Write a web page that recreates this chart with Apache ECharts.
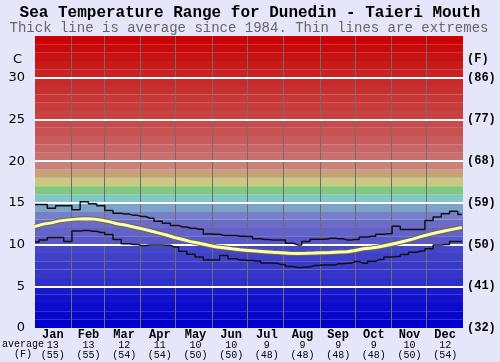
<!DOCTYPE html>
<html><head><meta charset="utf-8">
<script src="https://cdn.jsdelivr.net/npm/echarts@6/dist/echarts.min.js"></script>
<style>html,body{margin:0;padding:0;background:#e6e6fa;}#c{width:500px;height:362px;}</style>
</head><body><div id="c"></div>
<script>
// ---- data ----
const months = ['Jan','Feb','Mar','Apr','May','Jun','Jul','Aug','Sep','Oct','Nov','Dec'];
const monthAvgC = [13,13,12,11,10,10,9,9,9,9,10,12];
const monthAvgF = [55,55,54,54,50,50,48,48,48,48,50,54];
const monthStarts = [31,59,90,120,151,181,212,243,273,304,334];
const cTicks = [0,5,10,15,20,25,30];
const fTicks = ['(32)','(41)','(50)','(59)','(68)','(77)','(86)'];
const days = [0,7,14,21,28,35,42,49,56,63,70,77,84,91,98,105,112,119,126,133,140,147,154,161,168,175,182,189,196,203,210,217,224,231,238,245,252,259,266,273,280,287,294,301,308,315,322,329,336,343,350,357,364];
const avgTemp = [12.16,12.45,12.6,12.84,12.96,13.05,13.1,13.08,12.95,12.75,12.5,12.35,12.1,11.9,11.65,11.4,11.15,10.85,10.6,10.35,10.15,9.95,9.75,9.63,9.5,9.38,9.3,9.22,9.15,9.07,9.02,8.97,8.93,8.95,8.98,9.02,9.05,9.1,9.15,9.3,9.5,9.6,9.75,9.95,10.15,10.4,10.65,10.95,11.2,11.45,11.65,11.85,12.05];
const maxTemp = [14.8,14.8,14.36,14.64,14.64,14.16,15.12,14.88,14.64,14.08,13.76,13.65,13.5,13.36,13.15,12.8,12.56,12.3,12.1,11.95,11.84,11.28,11.24,11.1,11.1,11.0,10.96,10.7,10.6,10.56,10.56,10.16,9.96,10.36,10.64,10.64,10.76,10.7,10.56,10.6,10.9,11.0,11.24,11.3,12.2,11.8,11.8,11.8,12.9,13.3,13.7,14.0,13.6];
const minTemp = [10.3,10.56,10.84,10.84,10.36,11.64,11.7,11.6,11.45,11.2,10.6,10.1,10.0,9.9,9.96,9.96,9.92,9.7,9.2,8.84,8.5,8.16,8.16,8.68,8.3,8.16,8.1,8.04,7.8,7.76,7.6,7.36,7.24,7.3,7.48,7.56,7.56,7.7,7.76,7.96,7.76,8.0,8.2,8.5,8.56,8.8,9.08,9.24,9.5,9.96,10.0,10.36,10.36];
const titleText = 'Sea Temperature Range for Dunedin - Taieri Mouth';
const subtitleText = 'Thick line is average since 1984. Thin lines are extremes';

// ---- styles ----
const bandColors = ['#0000cc','#0606cc','#0c0ccc','#1212cc','#1818cc','#3030c8','#3535c8','#3a3ac8','#4040c8','#4646c8',
  '#5858c8','#6262c8','#6c6cc8','#7680c8','#7ca4c8','#80c8c8','#80c880','#c8c880','#c8a078','#c88078',
  '#c87070','#c86666','#c85c5c','#c85252','#c84a4a','#c84242','#c83c3c','#c83636','#c83030','#c82a2a',
  '#c82222','#c81a1a','#c81212','#c80a0a','#cc0000'];
const mono = '"Liberation Mono", "DejaVu Sans Mono", monospace';

const pairs = arr => days.map((d,i)=>[d, arr[i]]);
const chart = echarts.init(document.getElementById('c'));
chart.setOption({
  animation:false,
  backgroundColor:'#e6e6fa',
  grid:{left:35,right:37,top:36,bottom:34},
  xAxis:[
    {type:'value',min:0,max:365,show:true,axisLine:{show:false},axisTick:{show:false},axisLabel:{show:false},splitLine:{show:false}},
    {type:'category',data:months,position:'bottom',boundaryGap:true,axisLine:{show:false},axisTick:{show:false},splitLine:{show:false},
      axisLabel:{margin:1,interval:0,
        formatter:(v,i)=>'{m|'+v+'}\n{n|'+monthAvgC[i]+'}\n{n|('+monthAvgF[i]+')}',
        rich:{m:{fontFamily:mono,fontWeight:'bold',fontSize:12,lineHeight:11,color:'#000'},
              n:{fontFamily:mono,fontSize:10,lineHeight:10,color:'#000'}}}}
  ],
  yAxis:[
    {type:'value',min:0,max:35,interval:5,position:'left',axisLine:{show:false},axisTick:{show:false},splitLine:{show:false},
      axisLabel:{margin:10,fontFamily:'"DejaVu Sans", sans-serif',fontSize:13,color:'#000',
        formatter:v=>cTicks.indexOf(v)>=0?String(v):''}},
    {type:'value',min:0,max:35,interval:5,position:'right',axisLine:{show:false},axisTick:{show:false},splitLine:{show:false},
      axisLabel:{margin:4,fontFamily:mono,fontWeight:'bold',fontSize:12,color:'#000',
        formatter:v=>{const k=cTicks.indexOf(v);return k>=0?fTicks[k]:'';}}}
  ],
  graphic:[
    {type:'text',x:250,y:13,style:{text:titleText,font:'bold 16px "Liberation Mono"',fill:'#000',align:'center',verticalAlign:'middle',textAlign:'center',textVerticalAlign:'middle'}},
    {type:'text',x:249,y:28,style:{text:subtitleText,font:'14px "Liberation Mono"',fill:'#666',align:'center',verticalAlign:'middle',textAlign:'center',textVerticalAlign:'middle'}},
    {type:'text',left:13,top:53,style:{text:'C',font:'13px "DejaVu Sans"',fill:'#000'}},
    {type:'text',left:467,top:53,style:{text:'(F)',font:'bold 12px "Liberation Mono"',fill:'#000'}},
    {type:'text',left:2,top:339,style:{text:'average',font:'10px "Liberation Mono"',fill:'#000'}},
    {type:'text',left:14,top:349,style:{text:'(F)',font:'10px "Liberation Mono"',fill:'#000'}}
  ],
  series:[
    {type:'line',name:'bg',data:[],z:1,silent:true,
      markArea:{silent:true,itemStyle:{borderWidth:0},
        data:bandColors.map((c,i)=>[{yAxis:i,itemStyle:{color:c}},{yAxis:i+1}])}},
    {type:'line',name:'grid',data:[],z:2,silent:true,
      markLine:{silent:true,symbol:'none',label:{show:false},
        data:[...monthStarts.map(d=>({xAxis:d,lineStyle:{color:'#6e6e6e',width:1,type:'solid'}})),
              ...cTicks.slice(1).map(v=>({yAxis:v,lineStyle:{color:'#ffffff',width:2,type:'solid'}}))]}},
    {type:'line',name:'max',data:pairs(maxTemp),step:'middle',showSymbol:false,z:5,lineStyle:{color:'#111',width:1.5}},
    {type:'line',name:'min',data:pairs(minTemp),step:'middle',showSymbol:false,z:5,lineStyle:{color:'#111',width:1.5}},
    {type:'line',name:'avgEdge',data:pairs(avgTemp),showSymbol:false,z:6,lineStyle:{color:'#6a6a50',width:5}},
    {type:'line',name:'avg',data:pairs(avgTemp),showSymbol:false,z:7,lineStyle:{color:'#ffffb0',width:3}}
  ]
});
</script></body></html>
